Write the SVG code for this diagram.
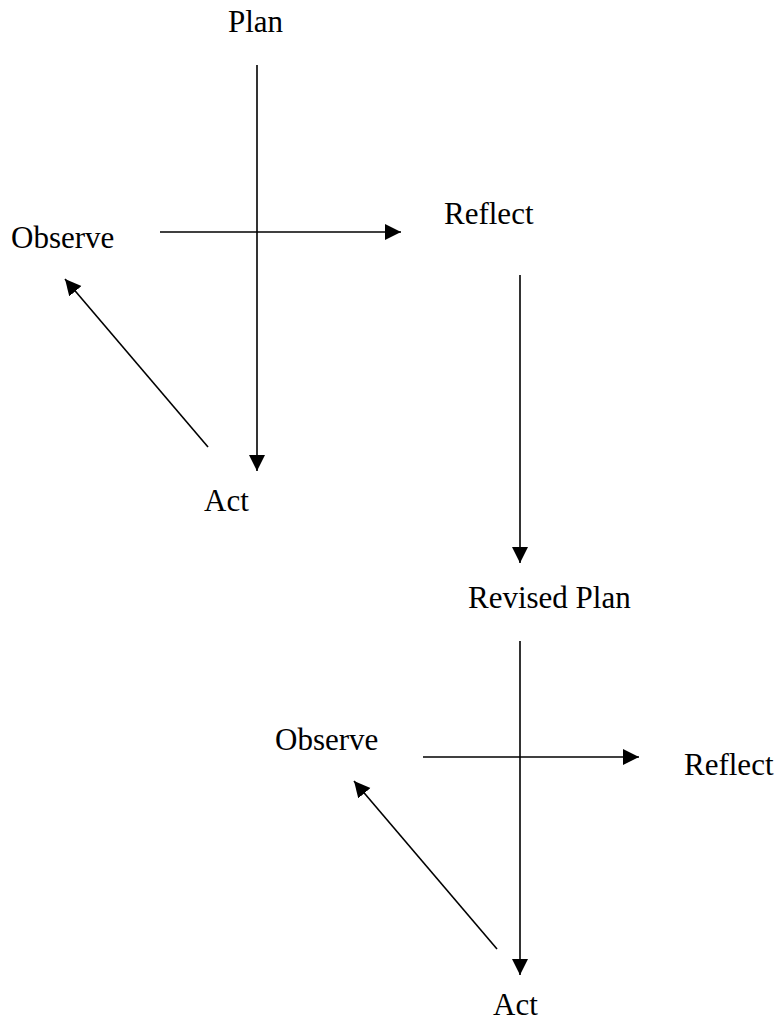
<svg xmlns="http://www.w3.org/2000/svg" width="780" height="1020" viewBox="0 0 780 1020">
<style>
  .t { font-family: 'Liberation Serif', 'Times New Roman', Tinos, 'DejaVu Serif', serif; font-size: 31px; fill: #000; }
  .c { stroke: #000; stroke-width: 1.6; fill: none; marker-end: url(#ah); }
</style>
<defs>
  <marker id="ah" markerUnits="userSpaceOnUse" markerWidth="17" markerHeight="17" refX="16" refY="8" orient="auto">
    <path d="M0,0 L16,8 L0,16 Z" fill="#000"/>
  </marker>
</defs>
<rect width="780" height="1020" fill="#fff"/>
<g id="connectors">
  <line class="c" x1="257" y1="65" x2="257" y2="471"/>
  <line class="c" x1="160" y1="232" x2="401" y2="232"/>
  <line class="c" x1="208" y1="447" x2="65" y2="279"/>
  <line class="c" x1="520" y1="275" x2="520" y2="563"/>
  <line class="c" x1="520" y1="641" x2="520" y2="975"/>
  <line class="c" x1="423" y1="757" x2="639" y2="757"/>
  <line class="c" x1="497" y1="949" x2="354" y2="781"/>
</g>
<g id="plan"><text class="t" font-family="Liberation Serif, serif" x="228" y="32">Plan</text></g>
<g id="observe1"><text class="t" x="11" y="248">Observe</text></g>
<g id="reflect1"><text class="t" x="444" y="224">Reflect</text></g>
<g id="act1"><text class="t" x="204" y="511">Act</text></g>
<g id="revised-plan"><text class="t" x="468" y="608">Revised Plan</text></g>
<g id="observe2"><text class="t" x="275" y="750">Observe</text></g>
<g id="reflect2"><text class="t" x="684" y="775">Reflect</text></g>
<g id="act2"><text class="t" x="493" y="1015">Act</text></g>
</svg>
